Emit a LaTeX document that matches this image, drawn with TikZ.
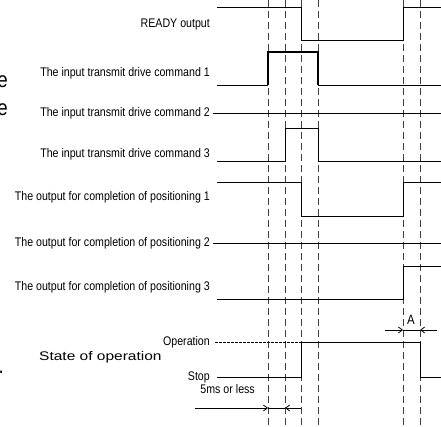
\documentclass[tikz,border=0pt]{standalone}
\usepackage{fontspec}
\setmainfont{Liberation Sans}[FakeStretch=0.85]
\newfontfamily\widefont{Liberation Sans}[FakeStretch=1.24]
\usetikzlibrary{arrows.meta}

\begin{document}
\begin{tikzpicture}[x=1pt,y=-1pt,
  sig/.style={line width=0.8pt},
  pulse/.style={line width=1.3pt},
  guide/.style={dash pattern=on 7pt off 4pt, line width=0.6pt, black!75},
  lbl/.style={anchor=east, inner sep=0pt, font=\fontsize{12.5}{14}\selectfont},
  frag/.style={anchor=east, inner sep=0pt, font=\fontsize{22}{24}\selectfont},
  >={Straight Barb[length=4pt,width=6pt]}]
 \useasboundingbox (0,0) rectangle (441,427);
 \foreach \t/\x in {1/268,2/285,3/301,4/318,5/403,6/420}
  \draw[guide] (\x,0) coordinate (t\t) -- (\x,427) coordinate (b\t);

 \node[frag] (e1) at (8,82) {e};
 \node[frag] (e2) at (8,110) {e};
 \node[frag] (dot) at (4,372) {.};

 \node[lbl] (ready) at (210,25) {READY output};
 \node[lbl] (cmda) at (210,73) {The input transmit drive command 1};
 \node[lbl] (cmdb) at (210,113) {The input transmit drive command 2};
 \node[lbl] (cmdc) at (210,154) {The input transmit drive command 3};
 \node[lbl] (posa) at (210,197) {The output for completion of positioning 1};
 \node[lbl] (posb) at (210,243) {The output for completion of positioning 2};
 \node[lbl] (posc) at (210,287) {The output for completion of positioning 3};
 \node[lbl] (oper) at (210,342) {Operation};
 \node[lbl] (stop) at (210,377) {Stop};
 \node[lbl, anchor=west, font=\fontsize{12.5}{14}\widefont] (state) at (39,357) {State of operation};
 \node[lbl] (five) at (255,389) {5ms or less};
 \node[lbl, anchor=center, font=\fontsize{13.5}{14}\selectfont] (A) at (411,320) {A};

 \draw[sig] (217,7) -- (301,7) -- (301,40.7) -- (403,40.7) -- (403,7) -- (441,7);
 \draw[sig] (217,85) -- (268,85);
 \draw[pulse] (268,85) -- (268,52) -- (318,52) -- (318,85);
 \draw[sig] (318,85) -- (441,85);
 \draw[sig] (cmdb.east) ++(3,0) -- (441,113);
 \draw[sig] (217,161.7) -- (285,161.7) -- (285,128.3) -- (318,128.3) -- (318,161.7) -- (441,161.7);
 \draw[sig] (217,182.7) -- (301,182.7) -- (301,216) -- (403,216) -- (403,182.7) -- (441,182.7);
 \draw[sig] (posb.east) ++(3,0) -- (441,243);
 \draw[sig] (217,299) -- (403,299) -- (403,266) -- (441,266);
 \draw[sig, dash pattern=on 2.5pt off 1.5pt] (oper.east) ++(5,0) -- (301,342);
 \draw[sig] (stop.east) ++(7,0) -- (301,377) -- (301,342) -- (420,342) -- (420,377) -- (441,377);

 \path[sig]
  (385,330) edge[->] (t5 |- 0,330)
  (t5 |- 0,330) edge (t6 |- 0,330)
  (437,330) edge[->] (t6 |- 0,330)
  (195,408) edge[->] (t1 |- 0,408)
  (t1 |- 0,408) edge (t2 |- 0,408)
  (t3 |- 0,408) edge[->] (t2 |- 0,408);
\end{tikzpicture}
\end{document}
